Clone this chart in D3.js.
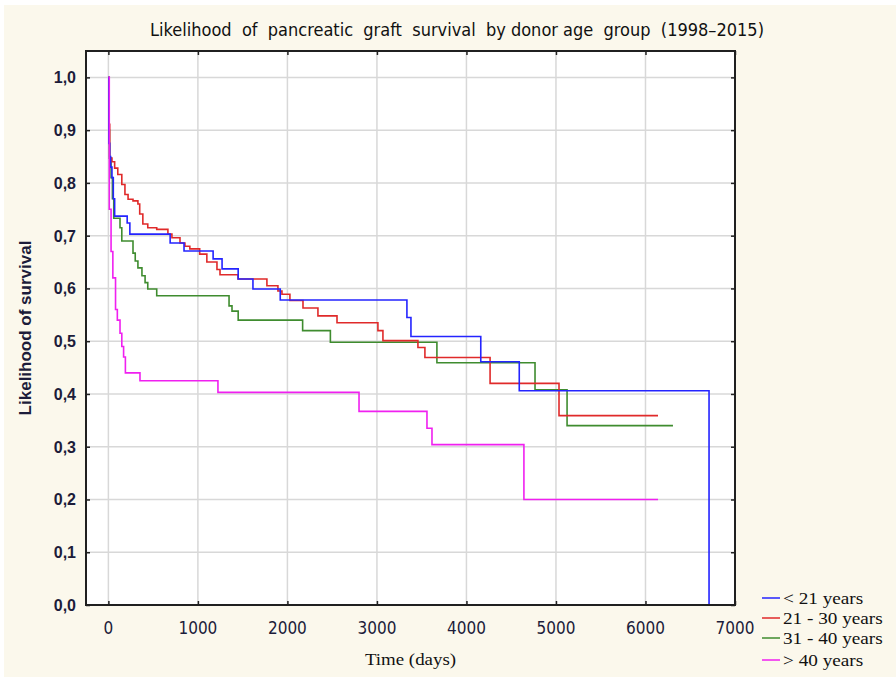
<!DOCTYPE html>
<html>
<head>
<meta charset="utf-8">
<script src="https://cdn.jsdelivr.net/npm/d3@7"></script>
<style>
  body { margin: 0; background: #ffffff; }
  text { white-space: pre; }
</style>
</head>
<body>
<svg id="chart"></svg>
<script>
const width = 896;
const height = 677;

const groups = ['< 21 years', '21 - 30 years', '31 - 40 years', '> 40 years'];
const colors = ['#2424ff', '#e02a2a', '#3f8c2f', '#f020f0'];

// time (days) / survival pairs
const blueTime = [0, 5, 15, 25, 40, 55, 70, 210, 240, 690, 845, 1170, 1270, 1450, 1615, 1920, 3335, 3380, 4160, 4590, 6710];
const blueSurv = [1.0, 0.875, 0.85, 0.83, 0.81, 0.77, 0.737, 0.724, 0.703, 0.686, 0.671, 0.656, 0.637, 0.618, 0.599, 0.578, 0.545, 0.509, 0.461, 0.406, 0.0];

const redTime = [0, 5, 15, 40, 70, 105, 150, 185, 220, 275, 330, 350, 385, 440, 540, 665, 710, 800, 855, 910, 1020, 1100, 1213, 1247, 1448, 1771, 1894, 1939, 2028, 2174, 2341, 2554, 3011, 3067, 3458, 3536, 4264, 5034, 6140];
const redSurv = [1.0, 0.911, 0.847, 0.84, 0.828, 0.816, 0.797, 0.778, 0.769, 0.766, 0.76, 0.741, 0.722, 0.715, 0.712, 0.703, 0.696, 0.686, 0.68, 0.675, 0.665, 0.65, 0.636, 0.626, 0.618, 0.605, 0.595, 0.589, 0.577, 0.563, 0.548, 0.535, 0.52, 0.501, 0.488, 0.469, 0.42, 0.359, 0.359];

const greenTime = [0, 5, 12, 30, 45, 60, 130, 150, 275, 300, 330, 375, 410, 440, 540, 1348, 1381, 1450, 2170, 2480, 3670, 4766, 5124, 6307];
const greenSurv = [1.0, 0.9, 0.847, 0.81, 0.77, 0.733, 0.715, 0.69, 0.667, 0.652, 0.639, 0.624, 0.611, 0.599, 0.586, 0.567, 0.557, 0.54, 0.52, 0.498, 0.459, 0.408, 0.34, 0.34];

const magTime = [0, 10, 30, 50, 80, 100, 130, 150, 170, 190, 353, 1224, 2800, 3559, 3615, 4642, 6140];
const magSurv = [1.0, 0.75, 0.67, 0.62, 0.56, 0.54, 0.515, 0.49, 0.47, 0.44, 0.425, 0.403, 0.367, 0.335, 0.304, 0.2, 0.2];

const xTicks = [0, 1000, 2000, 3000, 4000, 5000, 6000, 7000];
const yTicks = [0, 0.1, 0.2, 0.3, 0.4, 0.5, 0.6, 0.7, 0.8, 0.9, 1.0];

const plot = {left: 86, right: 735, top: 51, bottom: 605};

const svg = d3.select('#chart')
    .attr('width', width)
    .attr('height', height);

svg.append('rect')
    .attr('x', 4).attr('y', 5)
    .attr('width', width - 4).attr('height', height - 5)
    .attr('fill', '#fbf8ec');

svg.append('rect')
    .attr('x', plot.left).attr('y', plot.top)
    .attr('width', plot.right - plot.left).attr('height', plot.bottom - plot.top)
    .attr('fill', '#ffffff');

const x = d3.scaleLinear().domain([-250, 7000]).range([plot.left, plot.right]);
const y = d3.scaleLinear().domain([0, 1.05]).range([plot.bottom, plot.top]);

// grid
svg.append('g').selectAll('line').data(xTicks.filter(d => d < 7000))
    .enter().append('line')
    .attr('x1', d => x(d)).attr('x2', d => x(d))
    .attr('y1', plot.top).attr('y2', plot.bottom)
    .attr('stroke', '#d8d8d8').attr('stroke-width', 1.5);

svg.append('g').selectAll('line').data(yTicks.filter(d => d > 0))
    .enter().append('line')
    .attr('x1', plot.left).attr('x2', plot.right)
    .attr('y1', d => y(d)).attr('y2', d => y(d))
    .attr('stroke', '#d8d8d8').attr('stroke-width', 1.5);

// curves
const line = d3.line()
    .x(d => x(d[0]))
    .y(d => y(d[1]))
    .curve(d3.curveStepAfter);

const series = [
    d3.zip(blueTime, blueSurv),
    d3.zip(redTime, redSurv),
    d3.zip(greenTime, greenSurv),
    d3.zip(magTime, magSurv)
];

[2, 1, 0, 3].forEach(i => {
    svg.append('path')
        .datum(series[i])
        .attr('fill', 'none')
        .attr('stroke', colors[i])
        .attr('stroke-width', 1.6)
        .attr('d', line);
});

// axes: ticks point inward on all four sides
const tickSize = -4;
svg.append('g')
    .attr('transform', `translate(0, ${plot.bottom})`)
    .call(d3.axisBottom(x).tickValues(xTicks).tickSize(tickSize).tickFormat(''));
svg.append('g')
    .attr('transform', `translate(0, ${plot.top})`)
    .call(d3.axisTop(x).tickValues(xTicks).tickSize(tickSize).tickFormat(''));
svg.append('g')
    .attr('transform', `translate(${plot.left}, 0)`)
    .call(d3.axisLeft(y).tickValues(yTicks).tickSize(tickSize).tickFormat(''));
svg.append('g')
    .attr('transform', `translate(${plot.right}, 0)`)
    .call(d3.axisRight(y).tickValues(yTicks).tickSize(tickSize).tickFormat(''));

svg.selectAll('.domain').remove();
svg.selectAll('.tick line').attr('stroke', '#222').attr('stroke-width', 1.5);

svg.append('rect')
    .attr('x', plot.left).attr('y', plot.top)
    .attr('width', plot.right - plot.left).attr('height', plot.bottom - plot.top)
    .attr('fill', 'none')
    .attr('stroke', '#202020')
    .attr('stroke-width', 2);

// stretch a text horizontally, the source's serif labels are wide
function widen(sel, factor) {
    sel.each(function () {
        const len = this.getComputedTextLength();
        d3.select(this)
            .attr('textLength', len * factor)
            .attr('lengthAdjust', 'spacingAndGlyphs');
    });
}

// tick labels
svg.append('g').selectAll('text').data(xTicks)
    .enter().append('text')
    .attr('x', d => x(d))
    .attr('y', 634)
    .attr('text-anchor', 'middle')
    .attr('font-family', '"Liberation Sans Narrow", "DejaVu Sans Condensed", sans-serif')
    .attr('font-size', 17)
    .attr('fill', '#1c1c3a')
    .text(d => d);

svg.append('g').selectAll('text').data(yTicks)
    .enter().append('text')
    .attr('x', 76)
    .attr('y', d => y(d) + 6)
    .attr('text-anchor', 'end')
    .attr('font-family', '"Liberation Sans", Arial, sans-serif')
    .attr('font-size', 16)
    .attr('font-weight', 600)
    .attr('fill', '#1c1c3a')
    .text(d => d.toFixed(1).replace('.', ','));

// titles
svg.append('text')
    .attr('x', 457)
    .attr('y', 36)
    .attr('text-anchor', 'middle')
    .attr('font-family', '"Liberation Sans Narrow", "DejaVu Sans Condensed", sans-serif')
    .attr('font-size', 18)
    .attr('fill', '#111')
    .text('Likelihood  of  pancreatic  graft  survival  by donor age  group  (1998\u20132015)');

svg.append('text')
    .attr('transform', `translate(31, ${(plot.top + plot.bottom) / 2}) rotate(-90)`)
    .attr('text-anchor', 'middle')
    .attr('font-family', '"Liberation Sans", Arial, sans-serif')
    .attr('font-weight', 'bold')
    .attr('font-size', 17)
    .attr('fill', '#1c1c3a')
    .text('Likelihood of survival');

svg.append('text')
    .attr('x', (plot.left + plot.right) / 2)
    .attr('y', 665)
    .attr('text-anchor', 'middle')
    .attr('font-family', '"Liberation Serif", "Times New Roman", serif')
    .attr('font-size', 16)
    .attr('fill', '#111')
    .text('Time (days)')
    .call(widen, 1.18);

// legend
const legendY = [598, 618, 638, 660];
const legend = svg.append('g').selectAll('g').data(groups)
    .enter().append('g')
    .attr('transform', (d, i) => `translate(762, ${legendY[i]})`);

legend.append('line')
    .attr('x1', 0).attr('x2', 18)
    .attr('y1', 0).attr('y2', 0)
    .attr('stroke', (d, i) => colors[i])
    .attr('stroke-width', 1.5);

legend.append('text')
    .attr('x', 21)
    .attr('y', 6)
    .attr('font-family', '"Liberation Serif", "Times New Roman", serif')
    .attr('font-size', 16)
    .attr('fill', '#111')
    .text(d => d)
    .call(widen, 1.2);
</script>
</body>
</html>
